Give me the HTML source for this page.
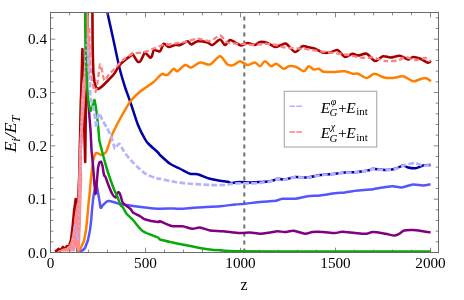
<!DOCTYPE html>
<html><head><meta charset="utf-8"><title>plot</title>
<style>
html,body{margin:0;padding:0;background:#fff;}
body{width:464px;height:300px;position:relative;overflow:hidden;font-family:"Liberation Serif",serif;}
svg text{font-family:"Liberation Serif",serif;fill:#000;}
</style></head><body>
<svg width="464" height="300" viewBox="0 0 464 300" style="position:absolute;left:0;top:0;will-change:transform;opacity:0.999">
<defs><clipPath id="c"><rect x="50.5" y="12.5" width="388.0" height="240.0"/></clipPath></defs>
<rect x="0" y="0" width="464" height="300" fill="#fff"/>
<g clip-path="url(#c)" fill="none" stroke-linejoin="round" stroke-linecap="butt">
<line x1="244.3" y1="252.5" x2="244.3" y2="12.5" stroke="#707070" stroke-width="2" stroke-dasharray="4,4"/>
<path d="M104.50,0.00C104.89,1.70 106.05,6.62 107.25,12.00C108.45,17.38 111.26,30.07 113.00,38.00C114.74,45.93 117.80,61.06 119.50,68.00C121.20,74.94 123.44,82.11 125.00,87.00C126.56,91.89 128.66,97.12 130.50,102.50C132.34,107.88 135.88,119.69 138.00,125.00C140.12,130.31 143.91,137.24 145.50,140.00C147.09,142.76 147.48,142.73 149.25,144.50C151.02,146.27 156.48,151.01 158.00,152.50C159.52,153.99 158.30,153.41 160.00,155.00C161.70,156.59 167.17,161.80 170.00,163.75C172.83,165.70 177.17,167.33 180.00,168.75C182.83,170.17 187.52,172.97 190.00,173.75C192.48,174.53 194.67,173.54 197.50,174.25C200.33,174.96 206.81,177.83 210.00,178.75C213.19,179.67 217.34,180.29 220.00,180.75C222.66,181.21 227.40,181.57 228.75,182.00C230.10,182.43 229.39,183.50 229.50,183.75" stroke="#0000a6" stroke-width="2.5" />
<path d="M229.50,183.75C229.85,183.64 230.51,183.25 232.00,183.00C233.49,182.75 237.45,182.07 240.00,182.00C242.55,181.93 247.17,182.50 250.00,182.50C252.83,182.50 257.17,182.18 260.00,182.00C262.83,181.82 267.73,181.60 270.00,181.25C272.27,180.90 274.94,179.85 276.00,179.50C277.06,179.15 276.23,178.75 277.50,178.75C278.77,178.75 282.52,179.75 285.00,179.50C287.48,179.25 291.81,177.28 295.00,177.00C298.19,176.72 303.96,177.78 307.50,177.50C311.04,177.22 316.10,175.53 320.00,175.00C323.90,174.47 331.46,174.10 335.00,173.75C338.54,173.40 341.81,172.75 345.00,172.50C348.19,172.25 353.96,172.35 357.50,172.00C361.04,171.65 367.80,170.46 370.00,170.00C372.20,169.54 370.80,168.75 373.00,168.75C375.20,168.75 382.31,170.00 385.50,170.00C388.69,170.00 393.02,169.39 395.50,168.75C397.98,168.11 401.23,165.68 403.00,165.50C404.77,165.32 406.23,167.11 408.00,167.50C409.77,167.89 413.38,168.53 415.50,168.25C417.62,167.97 420.88,165.96 423.00,165.50C425.12,165.04 429.44,165.07 430.50,165.00" stroke="#0000a6" stroke-width="2.5" />
<path d="M78.00,251.50L80.00,251.30L83.00,250.00L85.00,248.00L88.00,240.00L90.00,230.00L91.20,220.00L92.00,210.00L93.00,200.00L94.00,193.00L95.50,187.00L96.75,185.50L98.50,195.00L100.50,207.50C101.14,208.92 101.94,205.92 103.00,205.00C104.06,204.08 106.30,201.35 108.00,201.00C109.70,200.65 113.30,202.07 115.00,202.50C116.70,202.93 117.45,203.50 120.00,204.00C122.55,204.50 129.46,205.50 133.00,206.00C136.54,206.50 141.46,207.11 145.00,207.50C148.54,207.89 153.89,208.61 158.00,208.75C162.11,208.89 170.88,208.50 174.00,208.50C177.12,208.50 176.67,208.89 180.00,208.75C183.33,208.61 191.83,207.85 197.50,207.50C203.17,207.15 214.69,206.68 220.00,206.25C225.31,205.82 231.46,204.85 235.00,204.50C238.54,204.15 241.46,204.10 245.00,203.75C248.54,203.40 256.46,202.35 260.00,202.00C263.54,201.65 267.73,201.43 270.00,201.25C272.27,201.07 274.23,201.10 276.00,200.75C277.77,200.40 279.81,199.03 282.50,198.75C285.19,198.47 291.46,199.10 295.00,198.75C298.54,198.40 303.96,196.71 307.50,196.25C311.04,195.79 316.10,195.93 320.00,195.50C323.90,195.07 331.46,193.68 335.00,193.25C338.54,192.82 341.81,192.89 345.00,192.50C348.19,192.11 353.96,190.93 357.50,190.50C361.04,190.07 367.80,189.68 370.00,189.50C372.20,189.32 370.80,189.60 373.00,189.25C375.20,188.90 382.67,187.43 385.50,187.00C388.33,186.57 390.70,186.18 393.00,186.25C395.30,186.32 398.92,187.75 401.75,187.50C404.58,187.25 409.99,184.78 413.00,184.50C416.01,184.22 420.52,185.54 423.00,185.50C425.48,185.46 429.44,184.43 430.50,184.25" stroke="#5555ff" stroke-width="2.5" />
<path d="M77.50,251.50L80.00,249.50L84.00,241.00L86.00,230.00L87.30,218.00L88.30,206.00L89.50,195.00L91.00,178.00L92.00,170.00L93.00,161.00L94.50,155.50L96.00,153.00L98.50,153.50L101.00,155.00C101.71,155.07 102.79,154.43 103.50,154.00C104.21,153.57 105.36,152.99 106.00,152.00C106.64,151.01 107.29,148.98 108.00,147.00C108.71,145.02 110.25,140.12 111.00,138.00C111.75,135.88 111.95,134.83 113.30,132.00C114.65,129.17 118.06,122.36 120.50,118.00C122.94,113.64 127.67,105.04 130.50,101.25C133.33,97.46 137.31,93.91 140.50,91.25C143.69,88.59 150.24,84.73 153.00,82.50C155.76,80.27 158.58,76.74 160.00,75.50C161.42,74.26 162.29,73.82 163.00,73.75C163.71,73.68 164.29,74.89 165.00,75.00C165.71,75.11 166.76,75.39 168.00,74.50C169.24,73.61 172.40,69.21 173.75,68.75C175.10,68.29 175.91,71.78 177.50,71.25C179.09,70.72 183.05,65.53 185.00,65.00C186.95,64.47 189.12,67.85 191.25,67.50C193.38,67.15 197.34,62.92 200.00,62.50C202.66,62.08 207.17,65.39 210.00,64.50C212.83,63.61 217.52,56.25 220.00,56.25C222.48,56.25 225.55,63.26 227.50,64.50C229.45,65.74 231.98,65.46 233.75,65.00C235.52,64.54 238.05,61.25 240.00,61.25C241.95,61.25 245.38,64.82 247.50,65.00C249.62,65.18 253.23,62.32 255.00,62.50C256.77,62.68 258.58,66.43 260.00,66.25C261.42,66.07 263.41,61.25 265.00,61.25C266.59,61.25 269.66,65.90 271.25,66.25C272.84,66.60 274.48,63.40 276.25,63.75C278.02,64.10 281.98,68.40 283.75,68.75C285.52,69.10 286.98,66.50 288.75,66.25C290.52,66.00 294.12,66.29 296.25,67.00C298.38,67.71 301.98,71.36 303.75,71.25C305.52,71.14 307.33,66.50 308.75,66.25C310.17,66.00 312.33,69.15 313.75,69.50C315.17,69.85 317.33,68.43 318.75,68.75C320.17,69.07 321.45,71.29 323.75,71.75C326.05,72.21 331.99,72.07 335.00,72.00C338.01,71.93 342.52,71.00 345.00,71.25C347.48,71.50 350.66,73.40 352.50,73.75C354.34,74.10 355.98,73.15 358.00,73.75C360.02,74.35 364.45,78.00 366.75,78.00C369.05,78.00 371.77,73.82 374.25,73.75C376.73,73.68 381.59,76.90 384.25,77.50C386.91,78.10 390.34,78.18 393.00,78.00C395.66,77.82 400.17,75.79 403.00,76.25C405.83,76.71 410.70,80.79 413.00,81.25C415.30,81.71 417.48,79.96 419.25,79.50C421.02,79.04 423.84,77.75 425.50,78.00C427.16,78.25 430.22,80.79 431.00,81.25" stroke="#ff8000" stroke-width="2.5" />
<path d="M77.00,251.50L78.50,240.00L79.50,200.00L80.30,160.00L81.50,130.00L83.50,108.00L86.00,98.00L87.50,99.00L88.50,104.00L89.30,115.00L90.50,130.00L91.50,150.00L93.00,165.00L94.50,185.00L95.60,194.00L96.80,182.00L98.00,168.00L99.30,162.50L101.00,161.50C101.45,162.00 102.08,164.09 102.50,166.00C102.92,167.91 103.58,173.44 104.00,175.00C104.42,176.56 104.93,175.72 105.50,177.00C106.07,178.28 107.11,181.73 108.00,184.00C108.89,186.27 110.69,191.09 111.75,193.00C112.81,194.91 114.69,197.50 115.50,197.50C116.31,197.50 116.97,193.71 117.50,193.00C118.03,192.29 118.75,191.93 119.25,192.50C119.75,193.07 120.47,195.51 121.00,197.00C121.53,198.49 121.65,201.30 123.00,203.00C124.35,204.70 129.08,207.65 130.50,209.00C131.92,210.35 131.58,211.44 133.00,212.50C134.42,213.56 138.73,215.51 140.50,216.50C142.27,217.49 143.02,218.72 145.50,219.50C147.98,220.28 155.95,221.75 158.00,222.00C160.05,222.25 158.30,220.75 160.00,221.25C161.70,221.75 168.02,224.79 170.00,225.50C171.98,226.21 172.23,226.14 174.00,226.25C175.77,226.36 179.88,225.90 182.50,226.25C185.12,226.60 190.02,228.57 192.50,228.75C194.98,228.93 197.52,227.25 200.00,227.50C202.48,227.75 206.81,229.97 210.00,230.50C213.19,231.03 218.25,230.90 222.50,231.25C226.75,231.60 236.10,232.82 240.00,233.00C243.90,233.18 247.17,232.39 250.00,232.50C252.83,232.61 257.17,233.75 260.00,233.75C262.83,233.75 267.52,232.85 270.00,232.50C272.48,232.15 275.38,231.32 277.50,231.25C279.62,231.18 282.70,232.07 285.00,232.00C287.30,231.93 290.92,230.50 293.75,230.75C296.58,231.00 302.34,233.57 305.00,233.75C307.66,233.93 309.95,232.25 312.50,232.00C315.05,231.75 319.81,231.86 323.00,232.00C326.19,232.14 332.24,233.04 335.00,233.00C337.76,232.96 339.67,231.75 342.50,231.75C345.33,231.75 351.64,232.72 355.00,233.00C358.36,233.28 363.70,233.89 366.25,233.75C368.80,233.61 370.27,232.00 373.00,232.00C375.73,232.00 382.49,233.25 385.50,233.75C388.51,234.25 392.30,235.50 394.25,235.50C396.20,235.50 397.83,234.46 399.25,233.75C400.67,233.04 402.30,231.03 404.25,230.50C406.20,229.97 410.34,229.89 413.00,230.00C415.66,230.11 420.52,230.90 423.00,231.25C425.48,231.60 429.44,232.32 430.50,232.50" stroke="#800080" stroke-width="2.5" />
<path d="M77.50,251.50L78.50,240.00L79.50,200.00L80.00,150.00L81.00,100.00L82.30,80.00L85.50,65.00L87.20,50.00L87.50,30.00L87.50,0.00" stroke="#08aa08" stroke-width="2.5" />
<path d="M55.00,251.50L57.00,250.50L58.50,249.00L60.00,250.50L63.00,247.00L64.50,249.50L67.00,246.00L68.50,248.50L70.00,243.00L71.00,240.00L72.50,228.00L74.00,212.00L75.70,199.00L77.20,217.00L79.30,175.00L80.50,120.00L81.00,100.00L82.40,49.00L83.50,100.00L85.20,162.00L85.80,110.00L86.50,85.00L87.00,60.00L87.40,0.00L92.20,0.00L92.40,12.00L92.70,50.00L93.30,72.00L94.50,82.00L96.00,87.50L98.00,89.00L100.00,88.00C100.71,87.50 101.87,86.56 103.00,85.50C104.13,84.44 106.41,82.16 108.00,80.50C109.59,78.84 112.66,75.88 114.25,73.75C115.84,71.62 117.73,67.45 119.25,65.50C120.77,63.55 123.41,61.35 125.00,60.00C126.59,58.65 129.44,56.85 130.50,56.00C131.56,55.15 131.51,53.22 132.50,54.00C133.49,54.78 136.37,60.51 137.50,61.50C138.63,62.49 139.58,62.06 140.50,61.00C141.42,59.94 143.36,55.20 144.00,54.00C144.64,52.80 144.15,52.00 145.00,52.50C145.85,53.00 149.01,57.00 150.00,57.50C150.99,58.00 151.43,57.06 152.00,56.00C152.57,54.94 152.87,50.67 154.00,50.00C155.13,49.33 158.62,52.14 160.00,51.25C161.38,50.36 162.51,44.35 163.75,43.75C164.99,43.15 167.16,46.82 168.75,47.00C170.34,47.18 173.41,45.28 175.00,45.00C176.59,44.72 178.23,45.53 180.00,45.00C181.77,44.47 185.91,41.32 187.50,41.25C189.09,41.18 189.83,44.50 191.25,44.50C192.67,44.50 195.20,41.53 197.50,41.25C199.80,40.97 205.38,41.97 207.50,42.50C209.62,43.03 210.73,45.42 212.50,45.00C214.27,44.58 218.23,39.50 220.00,39.50C221.77,39.50 223.58,44.93 225.00,45.00C226.42,45.07 228.58,40.35 230.00,40.00C231.42,39.65 233.41,41.72 235.00,42.50C236.59,43.28 239.48,45.43 241.25,45.50C243.02,45.57 245.55,43.07 247.50,43.00C249.45,42.93 253.23,45.14 255.00,45.00C256.77,44.86 258.23,42.28 260.00,42.00C261.77,41.72 265.38,42.29 267.50,43.00C269.62,43.71 273.05,46.72 275.00,47.00C276.95,47.28 279.66,45.46 281.25,45.00C282.84,44.54 284.30,42.76 286.25,43.75C288.20,44.74 292.70,51.65 295.00,52.00C297.30,52.35 300.73,46.96 302.50,46.25C304.27,45.54 305.73,46.65 307.50,47.00C309.27,47.35 312.88,47.97 315.00,48.75C317.12,49.53 320.38,51.97 322.50,52.50C324.62,53.03 327.88,52.85 330.00,52.50C332.12,52.15 335.38,49.36 337.50,50.00C339.62,50.64 342.88,56.47 345.00,57.00C347.12,57.53 350.66,53.96 352.50,53.75C354.34,53.54 355.98,55.50 358.00,55.50C360.02,55.50 364.34,52.97 366.75,53.75C369.16,54.53 372.70,60.65 375.00,61.00C377.30,61.35 380.80,56.75 383.00,56.25C385.20,55.75 388.09,57.57 390.50,57.50C392.91,57.43 397.52,55.47 400.00,55.75C402.48,56.03 406.16,59.32 408.00,59.50C409.84,59.68 411.23,57.11 413.00,57.00C414.77,56.89 418.38,57.94 420.50,58.75C422.62,59.56 426.51,62.47 428.00,62.75C429.49,63.03 430.57,61.03 431.00,60.75" stroke="#a80000" stroke-width="2.6" />
<polygon points="57.00,251.50 60.00,250.00 63.00,248.50 66.00,248.00 69.00,245.50 70.50,242.00 72.00,236.00 73.50,226.00 75.00,213.00 76.30,205.00 77.30,202.00 78.00,180.00 78.50,166.00 79.00,150.00 80.00,130.00 81.00,100.00 81.50,95.00 82.00,84.00 83.50,75.00 84.00,65.00 84.00,50.00 84.50,40.00 86.20,30.00 86.20,0.00 88.70,0.00 88.80,30.00 90.00,40.00 90.50,50.00 90.50,70.00 89.00,80.00 86.00,86.00 85.30,95.00 85.00,100.00 83.00,130.00 82.00,150.00 82.00,166.00 82.30,180.00 81.50,200.00 81.00,220.00 80.30,240.00 79.50,251.50 77.00,251.50 76.00,246.00 74.50,251.50" fill="#ff8a8a" stroke="none"/>
<path d="M89.20,28.00L89.60,44.00L90.00,60.00L90.70,70.00L92.00,82.00L94.00,89.00L95.50,92.00L97.00,86.00L98.50,75.00L100.00,64.50C100.42,63.51 101.08,66.37 101.50,68.00C101.92,69.63 102.58,74.23 103.00,76.00C103.42,77.77 104.00,80.22 104.50,80.50C105.00,80.78 105.86,78.85 106.50,78.00C107.14,77.15 108.04,75.63 109.00,74.50C109.96,73.37 111.32,72.05 113.30,70.00C115.28,67.95 120.21,62.30 123.00,60.00C125.79,57.70 130.17,54.81 133.00,53.75C135.83,52.69 140.17,53.21 143.00,52.50C145.83,51.79 150.17,49.81 153.00,48.75C155.83,47.69 160.03,45.71 163.00,45.00C165.97,44.29 170.88,44.17 174.00,43.75C177.12,43.33 181.67,42.71 185.00,42.00C188.33,41.29 193.96,38.89 197.50,38.75C201.04,38.61 206.81,41.46 210.00,41.00C213.19,40.54 217.52,35.29 220.00,35.50C222.48,35.71 224.67,41.33 227.50,42.50C230.33,43.67 236.10,43.40 240.00,43.75C243.90,44.10 251.46,45.00 255.00,45.00C258.54,45.00 262.02,43.75 265.00,43.75C267.98,43.75 273.17,44.47 276.00,45.00C278.83,45.53 281.25,46.97 285.00,47.50C288.75,48.03 297.54,48.22 302.50,48.75C307.46,49.28 313.98,50.44 320.00,51.25C326.02,52.06 339.62,53.69 345.00,54.50C350.38,55.31 354.92,56.50 358.00,57.00C361.08,57.50 364.62,57.93 366.75,58.00C368.88,58.07 370.34,57.08 373.00,57.50C375.66,57.92 381.96,60.58 385.50,61.00C389.04,61.42 395.17,61.07 398.00,60.50C400.83,59.93 403.02,57.07 405.50,57.00C407.98,56.93 412.67,59.86 415.50,60.00C418.33,60.14 423.38,57.82 425.50,58.00C427.62,58.18 429.79,60.79 430.50,61.25" stroke="#ff8080" stroke-width="2.3" stroke-dasharray="5.2,2.8"/>
<path d="M85.00,0.00L85.10,12.00L85.40,38.00L86.00,60.00L87.30,88.00L88.70,104.00L90.50,111.00L92.50,106.00L94.50,100.00L95.50,105.00L97.00,115.00L98.50,130.00L99.25,140.00L100.50,145.30C101.03,147.43 101.94,151.15 103.00,155.00C104.06,158.85 106.41,167.54 108.00,172.50C109.59,177.46 113.01,186.81 114.25,190.00C115.49,193.19 115.86,192.88 116.75,195.00C117.64,197.12 119.61,203.23 120.50,205.00C121.39,206.77 122.11,206.22 123.00,207.50C123.89,208.78 125.33,212.23 126.75,214.00C128.17,215.77 130.70,217.56 133.00,220.00C135.30,222.44 139.46,228.77 143.00,231.25C146.54,233.73 155.59,236.33 158.00,237.50C160.41,238.67 157.95,238.79 160.00,239.50C162.05,240.21 168.96,241.72 172.50,242.50C176.04,243.28 181.46,244.29 185.00,245.00C188.54,245.71 193.96,246.86 197.50,247.50C201.04,248.14 206.46,249.07 210.00,249.50C213.54,249.93 218.96,250.25 222.50,250.50C226.04,250.75 227.42,251.11 235.00,251.25C242.58,251.39 248.27,251.46 276.00,251.50C303.73,251.54 408.83,251.50 430.75,251.50" stroke="#08aa08" stroke-width="2.5" />
<path d="M72.00,251.00L73.00,241.00L74.00,232.00L75.00,224.00L76.50,236.00L77.00,232.00L78.00,241.00L78.70,220.00L79.50,208.00L80.00,180.00L80.30,160.00L80.70,140.00L81.50,120.00L83.00,100.00L84.30,80.00L85.30,60.00L86.60,42.00L87.50,38.00L88.00,50.00" stroke="#b3b3ff" stroke-width="1.7" stroke-dasharray="2,3.5"/>
<path d="M88.00,50.00L88.50,62.00L89.20,75.00L90.00,84.00L90.30,97.00L93.50,108.00L95.00,118.00L96.30,128.00L97.30,120.00L98.50,113.00L100.50,116.00C101.14,117.13 102.08,119.30 103.00,121.00C103.92,122.70 105.87,125.88 107.00,128.00C108.13,130.12 110.08,133.73 111.00,136.00C111.92,138.27 112.93,142.19 113.50,144.00C114.07,145.81 114.50,148.47 115.00,148.75C115.50,149.03 116.40,146.71 117.00,146.00C117.60,145.29 118.54,143.47 119.25,143.75C119.96,144.03 121.11,146.58 122.00,148.00C122.89,149.42 123.94,151.70 125.50,153.75C127.06,155.80 130.17,159.67 133.00,162.50C135.83,165.33 141.96,171.45 145.50,173.75C149.04,176.05 155.95,178.04 158.00,178.75C160.05,179.46 157.59,178.29 160.00,178.75C162.41,179.21 170.75,181.29 175.00,182.00C179.25,182.71 185.04,183.32 190.00,183.75C194.96,184.18 205.04,184.82 210.00,185.00C214.96,185.18 221.81,185.19 225.00,185.00C228.19,184.81 230.38,183.88 232.50,183.65C234.62,183.42 237.52,183.44 240.00,183.40C242.48,183.36 247.17,183.47 250.00,183.40C252.83,183.33 257.17,183.18 260.00,182.90C262.83,182.62 267.73,181.90 270.00,181.45C272.27,181.00 274.94,180.05 276.00,179.70C277.06,179.35 276.23,178.95 277.50,178.95C278.77,178.95 282.52,179.95 285.00,179.70C287.48,179.45 291.81,177.48 295.00,177.20C298.19,176.92 303.96,177.98 307.50,177.70C311.04,177.42 316.10,175.73 320.00,175.20C323.90,174.67 331.46,174.30 335.00,173.95C338.54,173.60 341.81,172.95 345.00,172.70C348.19,172.45 353.96,172.55 357.50,172.20C361.04,171.85 367.80,170.66 370.00,170.20C372.20,169.74 370.80,168.95 373.00,168.95C375.20,168.95 382.31,170.20 385.50,170.20C388.69,170.20 393.02,169.59 395.50,168.95C397.98,168.31 401.23,166.36 403.00,165.70C404.77,165.04 406.23,164.65 408.00,164.30C409.77,163.95 413.38,163.00 415.50,163.20C417.62,163.40 420.88,165.42 423.00,165.70C425.12,165.98 429.44,165.27 430.50,165.20" stroke="#b3b3ff" stroke-width="2.7" stroke-dasharray="5.6,2.4"/>
</g>
<rect x="50.5" y="12.5" width="388.0" height="240.0" fill="none" stroke="#6a6a6a" stroke-width="1"/>
<path d="M50.50,252.5v-4.8M50.50,12.5v4.8M69.50,252.5v-2.9M69.50,12.5v2.9M88.50,252.5v-2.9M88.50,12.5v2.9M107.50,252.5v-2.9M107.50,12.5v2.9M126.50,252.5v-2.9M126.50,12.5v2.9M145.50,252.5v-4.8M145.50,12.5v4.8M164.50,252.5v-2.9M164.50,12.5v2.9M183.50,252.5v-2.9M183.50,12.5v2.9M202.50,252.5v-2.9M202.50,12.5v2.9M221.50,252.5v-2.9M221.50,12.5v2.9M240.50,252.5v-4.8M240.50,12.5v4.8M259.50,252.5v-2.9M259.50,12.5v2.9M278.50,252.5v-2.9M278.50,12.5v2.9M297.50,252.5v-2.9M297.50,12.5v2.9M316.50,252.5v-2.9M316.50,12.5v2.9M335.50,252.5v-4.8M335.50,12.5v4.8M354.50,252.5v-2.9M354.50,12.5v2.9M373.50,252.5v-2.9M373.50,12.5v2.9M392.50,252.5v-2.9M392.50,12.5v2.9M411.50,252.5v-2.9M411.50,12.5v2.9M430.50,252.5v-4.8M430.50,12.5v4.8M50.5,252.50h4.8M438.5,252.50h-4.8M50.5,241.83h2.9M438.5,241.83h-2.9M50.5,231.17h2.9M438.5,231.17h-2.9M50.5,220.50h2.9M438.5,220.50h-2.9M50.5,209.83h2.9M438.5,209.83h-2.9M50.5,199.17h4.8M438.5,199.17h-4.8M50.5,188.50h2.9M438.5,188.50h-2.9M50.5,177.83h2.9M438.5,177.83h-2.9M50.5,167.17h2.9M438.5,167.17h-2.9M50.5,156.50h2.9M438.5,156.50h-2.9M50.5,145.83h4.8M438.5,145.83h-4.8M50.5,135.17h2.9M438.5,135.17h-2.9M50.5,124.50h2.9M438.5,124.50h-2.9M50.5,113.83h2.9M438.5,113.83h-2.9M50.5,103.17h2.9M438.5,103.17h-2.9M50.5,92.50h4.8M438.5,92.50h-4.8M50.5,81.83h2.9M438.5,81.83h-2.9M50.5,71.17h2.9M438.5,71.17h-2.9M50.5,60.50h2.9M438.5,60.50h-2.9M50.5,49.83h2.9M438.5,49.83h-2.9M50.5,39.17h4.8M438.5,39.17h-4.8M50.5,28.50h2.9M438.5,28.50h-2.9M50.5,17.83h2.9M438.5,17.83h-2.9" stroke="#6a6a6a" stroke-width="0.8" fill="none"/>
<text x="47" y="257.50" text-anchor="end" font-size="15.2">0.0</text>
<text x="47" y="204.17" text-anchor="end" font-size="15.2">0.1</text>
<text x="47" y="150.83" text-anchor="end" font-size="15.2">0.2</text>
<text x="47" y="97.50" text-anchor="end" font-size="15.2">0.3</text>
<text x="47" y="44.17" text-anchor="end" font-size="15.2">0.4</text>
<text x="50.50" y="267.5" text-anchor="middle" font-size="15.2">0</text>
<text x="145.50" y="267.5" text-anchor="middle" font-size="15.2">500</text>
<text x="240.50" y="267.5" text-anchor="middle" font-size="15.2">1000</text>
<text x="335.50" y="267.5" text-anchor="middle" font-size="15.2">1500</text>
<text x="430.50" y="267.5" text-anchor="middle" font-size="15.2">2000</text>
<text x="244" y="290" text-anchor="middle" font-size="16">z</text>
<text transform="translate(16,134) rotate(-90)" text-anchor="middle" font-size="17.5" font-style="italic">E<tspan font-size="12.5" dy="3.5">i</tspan><tspan dy="-3.5">/E</tspan><tspan font-size="12.5" dy="3.5">T</tspan></text>
<rect x="284.25" y="91.25" width="92.5" height="55.75" fill="#fff" stroke="#a0a0a0" stroke-width="1"/>
<path d="M289.5,106.25h5.5M296.25,106.25h5.75" stroke="#b3b3ff" stroke-width="1.6"/>
<path d="M289.5,132h5.5M296.25,132h5.75" stroke="#ff8080" stroke-width="1.6"/>
<text x="320.75" y="112.5" font-size="15.5" font-style="italic">E</text>
<text x="330.75" y="105.0" font-size="10" font-style="italic">φ</text>
<text x="329.5" y="116.25" font-size="11" font-style="italic">G</text>
<text x="338" y="112.5" font-size="15.5">+</text>
<text x="346.25" y="112.5" font-size="15.5" font-style="italic">E</text>
<text x="356.25" y="115.0" font-size="11">int</text>
<text x="320.75" y="138" font-size="15.5" font-style="italic">E</text>
<text x="330.75" y="129.5" font-size="10" font-style="italic">χ</text>
<text x="329.5" y="141.75" font-size="11" font-style="italic">G</text>
<text x="338" y="138" font-size="15.5">+</text>
<text x="346.25" y="138" font-size="15.5" font-style="italic">E</text>
<text x="356.25" y="140.5" font-size="11">int</text>
</svg>
</body></html>
